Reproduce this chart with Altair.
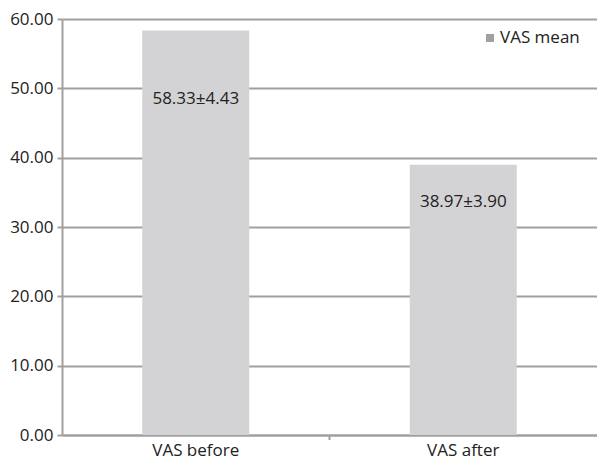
import altair as alt
import pandas as pd

# VAS scores before and after treatment
categories = ["VAS before", "VAS after"]
means = [58.33, 38.97]
sds = [4.43, 3.90]
labels = ["58.33±4.43", "38.97±3.90"]

df = pd.DataFrame({"group": categories, "mean": means, "sd": sds, "label": labels})

FONT = "Open Sans"
FS = 17
TEXT = "#222222"
GRID = "#a0a0a0"
BAR = "#d3d3d5"

W, H = 535, 416

x = alt.X("group:N", sort=categories, title=None,
          scale=alt.Scale(paddingInner=0.6, paddingOuter=0.3),
          axis=alt.Axis(labelAngle=0, ticks=False, domainColor=GRID, domainWidth=2,
                        labelFontSize=FS, labelFont=FONT, labelColor=TEXT, labelPadding=7))
y = alt.Y("mean:Q", title=None,
          scale=alt.Scale(domain=[0, 60], nice=False),
          axis=alt.Axis(values=[0, 10, 20, 30, 40, 50, 60], format=".2f",
                        gridColor=GRID, gridWidth=2, domain=True, domainColor=GRID, domainWidth=2,
                        tickColor=GRID, tickSize=5, tickWidth=2,
                        labelFontSize=FS, labelFont=FONT, labelColor=TEXT, labelPadding=4))

bars = alt.Chart(df).mark_bar(color=BAR).encode(x=x, y=y)

lab_before = alt.Chart(df).transform_filter(alt.datum.group == "VAS before").mark_text(
    font=FONT, fontSize=FS, color=TEXT, dy=68, baseline="middle"
).encode(x=alt.X("group:N", sort=categories), y="mean:Q", text="label:N")

lab_after = alt.Chart(df).transform_filter(alt.datum.group == "VAS after").mark_text(
    font=FONT, fontSize=FS, color=TEXT, dy=37, baseline="middle"
).encode(x=alt.X("group:N", sort=categories), y="mean:Q", text="label:N")

# small tick between the two categories on the x axis
mid_tick = alt.Chart(df.head(1)).mark_rule(color=GRID, strokeWidth=2).encode(
    x=alt.value(W / 2), y=alt.value(H), y2=alt.value(H + 5))

# legend
legend_sym = alt.Chart(df.head(1)).mark_square(color="#a0a0a2", size=64, opacity=1).encode(
    x=alt.value(428), y=alt.value(19))
legend_txt = alt.Chart(pd.DataFrame({"t": ["VAS mean"]})).mark_text(
    font=FONT, fontSize=FS, color=TEXT, align="left", baseline="middle").encode(
    x=alt.value(438), y=alt.value(19), text="t:N")

chart = alt.layer(bars, lab_before, lab_after, mid_tick, legend_sym, legend_txt).properties(
    width=W, height=H,
    autosize=alt.AutoSizeParams(type="none"),
    padding={"left": 62, "top": 19, "right": 0, "bottom": 26},
).configure_view(stroke=None).configure_axis(grid=True).configure_axisX(grid=False)

chart.save("out.html", embed_options={"renderer": "svg", "actions": False})
